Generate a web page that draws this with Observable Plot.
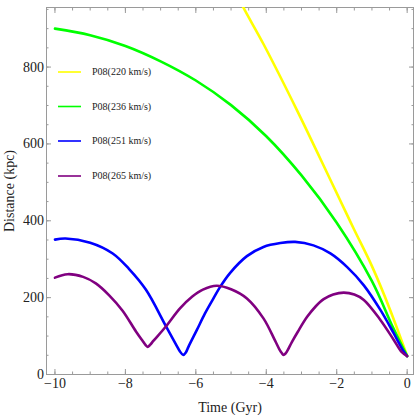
<!DOCTYPE html>
<html>
<head>
<meta charset="utf-8">
<script src="https://cdn.jsdelivr.net/npm/d3@7"></script>
<script src="https://cdn.jsdelivr.net/npm/@observablehq/plot@0.6"></script>
<style>
  html, body { margin: 0; padding: 0; background: white; }
  #wrap { position: relative; width: 415px; height: 415px; }
  #legend { position: absolute; left: 0; top: 0; pointer-events: none; }
</style>
</head>
<body>
<div id="wrap"></div>
<script>
// ---- data ----
const seriesNames = ["P08(220 km/s)", "P08(236 km/s)", "P08(251 km/s)", "P08(265 km/s)"];
const seriesColors = ["#ffff00", "#00ff00", "#0000ff", "#800080"];

const t220 = [-4.8, -4.65, -4.08, -3.13, -2.13, -1.52, -1.0, -0.5, 0];
const d220 = [985, 955, 860, 688, 497, 380, 282, 172, 48];

const t236 = [-10, -9, -8, -7, -6, -5, -4, -3, -2, -1, -0.4, 0];
const d236 = [900, 883, 855, 815, 765, 701, 620, 518, 395, 243, 122, 48];

const t251 = [-10, -9.7, -9, -8.36, -7.9, -7.42, -6.85, -6.55, -6.45, -6.36, -6.28, -6.21, -5.97, -5.74, -5.5, -5.31, -5.03, -4.55, -4.08, -3.6, -3.18, -2.66, -2.18, -1.71, -1.23, -0.76, -0.38, -0.1, 0];
const d251 = [351, 354, 343, 315, 275, 221, 126, 76, 60, 51, 58, 72, 116, 159, 198, 228, 264, 308, 332, 342, 345, 336, 315, 280, 232, 168, 107, 60, 48];

const t265 = [-10, -9.64, -9.2, -8.84, -8.46, -8.08, -7.7, -7.5, -7.43, -7.37, -7.3, -7.2, -6.85, -6.45, -6.1, -5.8, -5.41, -5.0, -4.55, -4.08, -3.75, -3.62, -3.56, -3.51, -3.45, -3.4, -3.27, -3.1, -2.84, -2.6, -2.37, -2.1, -1.8, -1.5, -1.23, -0.76, -0.38, -0.15, 0];
const d265 = [252, 261, 254, 237, 206, 166, 112, 86, 77, 72, 77, 88, 125, 172, 203, 221, 231, 222, 198, 146, 88, 64, 56, 51, 55, 62, 85, 112, 150, 177, 196, 208, 213, 208, 194, 142, 90, 58, 48];

const xMajorTicks = [-10, -8, -6, -4, -2, 0];
const xMinorTicks = [-10, -9.5, -9, -8.5, -8, -7.5, -7, -6.5, -6, -5.5, -5, -4.5, -4, -3.5, -3, -2.5, -2, -1.5, -1, -0.5, 0];
const yMajorTicks = [0, 200, 400, 600, 800];
const yMinorTicks = [0, 50, 100, 150, 200, 250, 300, 350, 400, 450, 500, 550, 600, 650, 700, 750, 800, 850, 900, 950];

// ---- build table ----
const ts = [t220, t236, t251, t265];
const ds = [d220, d236, d251, d265];
const rows = [];
seriesNames.forEach((name, i) => {
  ts[i].forEach((t, j) => rows.push({series: name, t, d: ds[i][j]}));
});

const tickColor = "#9a9a9a";
const textColor = "#222";
const blank = () => "";

const chart = Plot.plot({
  width: 415,
  height: 415,
  marginLeft: 46,
  marginRight: 2,
  marginTop: 7,
  marginBottom: 41,
  style: {fontFamily: "Liberation Serif, serif", fontSize: "14px", color: textColor, background: "white", overflow: "visible"},
  x: {domain: [-10.24, 0.18]},
  y: {domain: [0, 955]},
  color: {domain: seriesNames, range: seriesColors},
  marks: [
    Plot.frame({stroke: tickColor, strokeWidth: 1}),
    Plot.axisX(xMinorTicks, {anchor: "bottom", tickSize: -2.5, tickFormat: blank, label: null, stroke: tickColor}),
    Plot.axisX(xMinorTicks, {anchor: "top", tickSize: -2.5, tickFormat: blank, label: null, stroke: tickColor}),
    Plot.axisY(yMinorTicks, {anchor: "left", tickSize: -2.5, tickFormat: blank, label: null, stroke: tickColor}),
    Plot.axisY(yMinorTicks, {anchor: "right", tickSize: -2.5, tickFormat: blank, label: null, stroke: tickColor}),
    Plot.axisX(xMajorTicks, {anchor: "bottom", tickSize: -5, tickPadding: 8.5, stroke: tickColor, fill: textColor,
      label: "Time (Gyr)", labelAnchor: "center", labelArrow: "none", labelOffset: 37}),
    Plot.axisX(xMajorTicks, {anchor: "top", tickSize: -5, tickFormat: blank, label: null, stroke: tickColor}),
    Plot.axisY(yMajorTicks, {anchor: "left", tickSize: -5, tickPadding: 7.4, stroke: tickColor, fill: textColor,
      label: "Distance (kpc)", labelAnchor: "center", labelArrow: "none", labelOffset: 42}),
    Plot.axisY(yMajorTicks, {anchor: "right", tickSize: -5, tickFormat: blank, label: null, stroke: tickColor}),
    Plot.line(rows, {x: "t", y: "d", z: "series", stroke: "series", strokeWidth: 2.6, curve: "catmull-rom", clip: true})
  ]
});
const wrap = document.getElementById("wrap");
wrap.appendChild(chart);

// legend (SVG overlay inside the plot frame)
const legendTops = [72, 106.5, 141, 176];
const lg = d3.create("svg").attr("id", "legend").attr("width", 415).attr("height", 415);
seriesNames.forEach((name, i) => {
  const g = lg.append("g").attr("transform", `translate(58,${legendTops[i]})`);
  g.append("line").attr("x1", 0).attr("x2", 23).attr("y1", 0).attr("y2", 0)
    .attr("stroke", seriesColors[i]).attr("stroke-width", 1.6);
  g.append("text").attr("x", 34).attr("y", 0).attr("dy", "0.32em")
    .attr("font-family", "Liberation Serif, serif").attr("font-size", 10).attr("fill", textColor)
    .text(name);
});
wrap.appendChild(lg.node());
</script>
</body>
</html>
